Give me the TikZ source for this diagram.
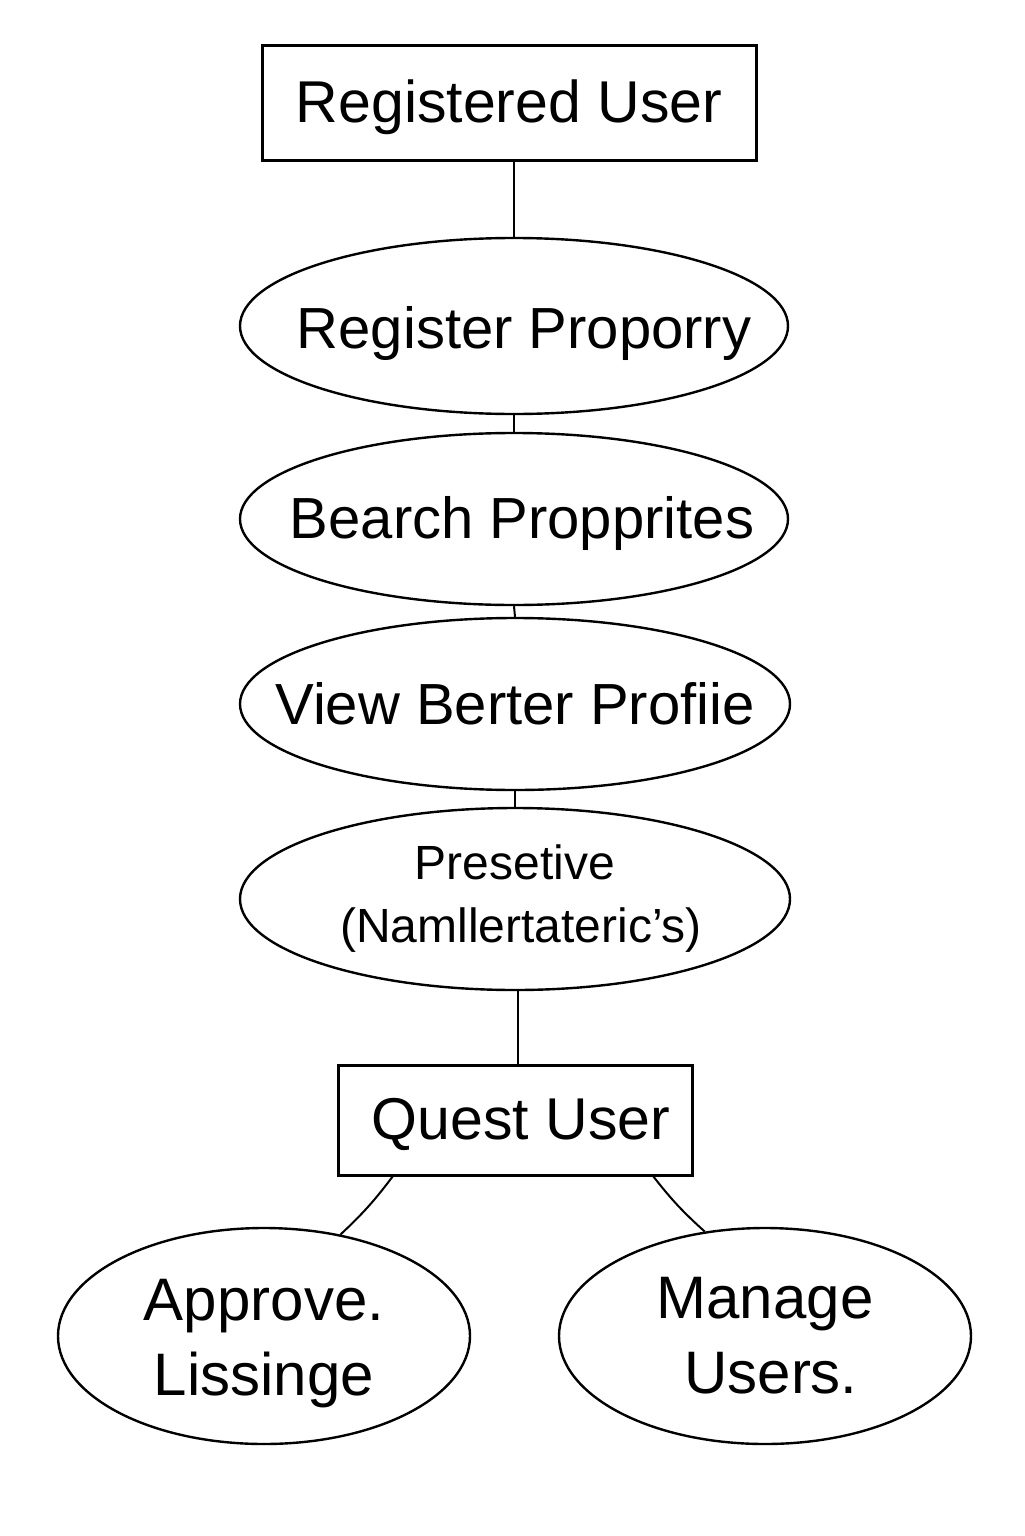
\documentclass[tikz,border=0pt]{standalone}
\usepackage{fontspec}
\setmainfont{Liberation Sans}
\usetikzlibrary{shapes.geometric}

\tikzset{
  userbox/.style={draw, black, line width=1.5pt, inner sep=0pt, font=\fontsize{29.5}{34}\selectfont},
  usecase/.style={draw, black, ellipse, line width=1.2pt, inner ysep=0pt, inner xsep=-30pt, align=center,
    minimum width=274pt, minimum height=88pt, font=\fontsize{29}{34}\selectfont},
  link/.style={black, line width=1pt}
}

\begin{document}
\begin{tikzpicture}[x=0.5pt, y=-0.5pt]
%\draw [lightgray](0,0) grid[step=100] (1024,1536);
\useasboundingbox (0,0) rectangle (1024,1536);

\node [userbox, minimum width=247pt, minimum height=57pt] (reg) at (509,103) {\raisebox{-2pt}[\height][\depth]{Registered User}};
\node [usecase] (regprop) at (514,326) {\raisebox{-4pt}[\height][\depth]{\hspace{10pt}Register Proporry}};
\node [usecase, minimum height=86pt] (search) at (514,519) {\raisebox{-2pt}[\height][\depth]{\hspace{8pt}Bearch Propprites}};
\node [usecase, minimum width=275pt, minimum height=86pt] (view) at (515,704) {View Berter Profiie};
\node [usecase, minimum width=275pt, minimum height=91pt,
       font=\fontsize{24}{31.5}\selectfont] (pres) at (515,899) {Presetive\\\hspace{6pt}(Namllertateric's)};
\node [userbox, minimum width=177pt, minimum height=55pt] (quest) at (515,1120) {\raisebox{-2pt}[\height][\depth]{\hspace{6pt}Quest User}};
\node [usecase, minimum width=206pt, minimum height=108pt, inner xsep=0pt,
       font=\fontsize{30}{37.5}\selectfont] (approve) at (264,1336) {\raisebox{-4pt}[\height][\depth]{Approve.}\\\raisebox{-4pt}[\height][\depth]{Lissinge}};
\node [usecase, minimum width=206pt, minimum height=108pt, inner xsep=0pt,
       font=\fontsize{30}{37.5}\selectfont] (manage) at (765,1336) {Manage\\\hspace{6pt}Users.};

\draw [link] (regprop.north |- reg.south) -- (regprop.north);
\draw [link] (regprop.south) -- (search.north);
\draw [link] (search.south) -- (view.north);
\draw [link] (view.south) -- (pres.north);
\draw [link] ([xshift=1.5pt]pres.south) -- ([xshift=1.5pt]quest.north);
\draw [link] (393,1176) coordinate (ql) to[bend left=5] (approve.53);
\draw [link] (653,1176) coordinate (qr) to[bend right=5] (manage.120);
\end{tikzpicture}
\end{document}
